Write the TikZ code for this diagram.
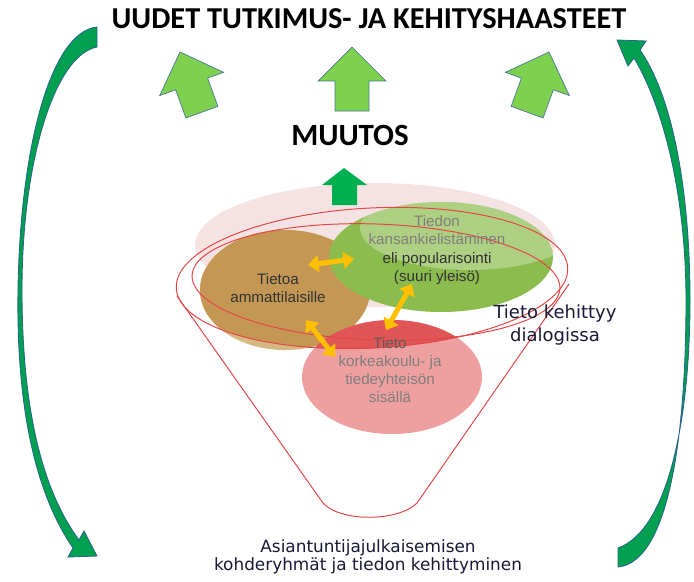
\documentclass[tikz,border=0pt]{standalone}
\usepackage{fontspec}
\setmainfont{Liberation Sans}
\newfontfamily\headfont{Carlito}
\newfontfamily\verdfont{DejaVu Sans}
\usetikzlibrary{arrows.meta}

\definecolor{lightgreen}{RGB}{128,208,80}
\definecolor{arrowedge}{RGB}{70,120,150}
\definecolor{curvegreen}{RGB}{0,160,80}
\definecolor{curveedge}{RGB}{40,100,140}
\definecolor{darkgreen}{RGB}{0,176,80}
\definecolor{palepink}{RGB}{245,226,226}
\definecolor{tanlight}{RGB}{214,184,130}
\definecolor{tandark}{RGB}{196,152,84}
\definecolor{leafgreen}{RGB}{140,188,78}
\definecolor{rosered}{RGB}{238,160,160}
\definecolor{capred}{RGB}{224,86,86}
\definecolor{ringred}{RGB}{228,70,70}
\definecolor{yellowarrow}{RGB}{255,192,0}
\definecolor{blobgrey}{RGB}{50,50,50}
\definecolor{fadegrey}{RGB}{130,125,125}
\definecolor{inktext}{RGB}{25,25,55}

\tikzset{blockarrow/.style={fill=lightgreen, draw=arrowedge, line width=0.5pt}}
\tikzset{bigcurve/.style={fill=curvegreen, draw=curveedge, line width=0.6pt}}
\tikzset{ring/.style={draw=ringred, line width=0.7pt}}
\tikzset{twoway/.style={draw=yellowarrow, line width=3.6pt, {Triangle[width=12pt,length=7.5pt]}-{Triangle[width=12pt,length=7.5pt]}}}
\tikzset{blobtext/.style={font=\fontsize{10.8}{13}\selectfont, align=center, text=blobgrey}}
\tikzset{upblock/.pic={
  \draw[blockarrow] (0,0) -- (34,34) -- (17,34) -- (17,64) -- (-17,64) -- (-17,34) -- (-34,34) -- cycle;
}}

\begin{document}
\begin{tikzpicture}[x=0.025cm, y=-0.025cm]
      \useasboundingbox (0,0) rectangle (694,581);

      % big curved arrows
      \draw[bigcurve] (97,27) .. controls (50,32) and (20,150) .. (18,290)
            .. controls (16,420) and (40,500) .. (73,548) -- (68,557) -- (97,556) -- (84,531) -- (79,540)
            .. controls (46,495) and (22,420) .. (22,290) .. controls (22,160) and (55,55) .. (97,47) -- cycle;
      \draw[bigcurve] (618,548) .. controls (668,530) and (690,420) .. (690,300)
            .. controls (690,200) and (675,100) .. (640,50) -- (646,41) -- (617,40) -- (628,66) -- (634,58)
            .. controls (665,110) and (686,200) .. (686,300) .. controls (686,440) and (668,562) .. (618,567) -- cycle;

      % title and arrows
      \node[font=\headfont\bfseries\fontsize{21.6}{25}\selectfont] (title) at (369,19) {UUDET TUTKIMUS- JA KEHITYSHAASTEET};
      \pic[rotate=20] at (180,52) {upblock};
      \pic at (352,47) {upblock};
      \pic[rotate=-20] at (549,52) {upblock};
      \node[font=\headfont\bfseries\fontsize{22}{25}\selectfont] (muutos) at (350,135) {MUUTOS};

      % blobs
      \fill[palepink] (375,245) ellipse [x radius=180, y radius=62];
      \fill[darkgreen] (344,168) -- (367,185) -- (357,185) -- (357,205) -- (332,205) -- (332,185) -- (322,185) -- cycle;
      \fill[tanlight] (285,290) ellipse [x radius=85, y radius=60];
      \begin{scope}
        \clip[rotate around={3:(372,278)}] (372,278) ellipse [x radius=196, y radius=70];
        \fill[tandark] (285,290) ellipse [x radius=85, y radius=60];
      \end{scope}
      \fill[leafgreen] (441,257) ellipse [x radius=112, y radius=55];
      \begin{scope}
        \clip (441,257) ellipse [x radius=112, y radius=55];
        \fill[white, opacity=0.3] (470,228) ellipse [x radius=110, y radius=42];
      \end{scope}
      \fill[rosered] (392,377) ellipse [x radius=90, y radius=57];
      \begin{scope}
        \clip (392,377) ellipse [x radius=90, y radius=57];
        \fill[capred, rotate around={3:(372,278)}] (372,278) ellipse [x radius=196, y radius=70];
      \end{scope}

      % rings and funnel
      \draw[ring, rotate around={3:(372,278)}] (372,278) ellipse [x radius=196, y radius=70];
      \draw[ring, rotate around={-2:(376,282)}] (376,282) ellipse [x radius=184, y radius=58];
      \draw[ring] (177,296) -- (323,503) .. controls (340,522) and (398,522) .. (417,503) -- (569,284);

      % texts
      \node[blobtext] (ammatti) at (278,288) {Tietoa\\ammattilaisille};
      \node[blobtext] (kansan) at (437,250) {\textcolor{fadegrey}{Tiedon}\\\textcolor{fadegrey}{kansankielistäminen}\\eli popularisointi\\(suuri yleisö)};
      \node[blobtext, text=fadegrey] (yhteiso) at (390,370) {\textcolor{blobgrey!80}{Tieto}\\korkeakoulu- ja\\tiedeyhteisön\\sisällä};

      % dialog arrows
      \coordinate (a1) at (308,265);
      \coordinate (a2) at (354,259);
      \coordinate (b1) at (386,330);
      \coordinate (b2) at (412,284);
      \coordinate (c1) at (306,320);
      \coordinate (c2) at (335,357);
      \draw[twoway] (a1) -- (a2);
      \draw[twoway] (b1) -- (b2);
      \draw[twoway] (c1) -- (c2);

      \node[font=\verdfont\fontsize{12.8}{17}\selectfont, align=center, text=inktext] (dialogi) at (555,325) {Tieto kehittyy\\dialogissa};
      \node[font=\verdfont\fontsize{12}{13}\selectfont, align=center, text=inktext] (kohde) at (368,557) {Asiantuntijajulkaisemisen\\kohderyhmät ja tiedon kehittyminen};
\end{tikzpicture}
\end{document}
